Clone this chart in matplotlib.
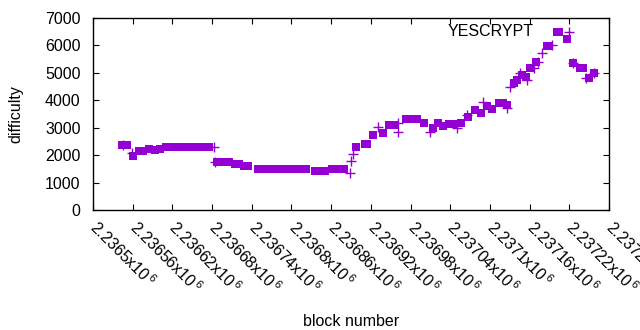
import matplotlib
matplotlib.use("Agg")
import matplotlib.pyplot as plt

plt.rcParams["font.family"] = ["Liberation Sans", "DejaVu Sans"]
plt.rcParams["mathtext.default"] = "regular"

purple = "#9400D3"

# блоки с квадратными маркерами
sq_blocks = [2236544, 2236548, 2236551, 2236560, 2236569, 2236575, 2236584, 2236593,
             2236601, 2236610, 2236616, 2236622, 2236628, 2236634, 2236640, 2236646,
             2236652, 2236658, 2236664, 2236670, 2236676, 2236687, 2236693, 2236699,
             2236705, 2236714, 2236720, 2236729, 2236735, 2236750, 2236756, 2236762,
             2236768, 2236774, 2236780, 2236792, 2236798, 2236804, 2236810, 2236816,
             2236822, 2236836, 2236843, 2236850, 2236861, 2236867, 2236873, 2236880,
             2236898, 2236911, 2236914, 2236923, 2236938, 2236948, 2236956, 2236973,
             2236979, 2236985, 2236989, 2237001, 2237014, 2237021, 2237029, 2237038,
             2237045, 2237057, 2237067, 2237078, 2237086, 2237096, 2237103, 2237113,
             2237119, 2237126, 2237136, 2237141, 2237149, 2237154, 2237161, 2237169,
             2237186, 2237190, 2237201, 2237205, 2237216, 2237226, 2237236, 2237240,
             2237249, 2237258]
sq_diff = [2370, 2370, 2370, 1970, 2150, 2150, 2220, 2200,
           2240, 2300, 2300, 2300, 2300, 2300, 2300, 2300,
           2300, 2300, 2300, 2300, 2300, 1760, 1760, 1760,
           1760, 1660, 1660, 1590, 1590, 1480, 1480, 1480,
           1480, 1480, 1480, 1510, 1510, 1510, 1510, 1510,
           1510, 1420, 1420, 1420, 1490, 1490, 1490, 1490,
           2300, 2420, 2420, 2730, 2790, 3100, 3100, 3320,
           3320, 3320, 3320, 3170, 3000, 3190, 3060, 3150,
           3150, 3190, 3400, 3650, 3550, 3790, 3700, 3890,
           3890, 3830, 4620, 4740, 4920, 4840, 5160, 5410,
           5980, 5980, 6480, 6480, 6220, 5350, 5170, 5170,
           4800, 5010]

# блоки с крестиками
pl_blocks = [2236546, 2236559, 2236683, 2236684, 2236889, 2236890, 2236893, 2236931,
             2236961, 2236961, 2237010, 2237050, 2237065, 2237090, 2237126, 2237131,
             2237146, 2237156, 2237166, 2237172, 2237179, 2237194, 2237219, 2237225,
             2237245, 2237257]
pl_diff = [2380, 2070, 2300, 1760, 1350, 1790, 2040, 3030,
           2840, 3170, 2840, 2980, 3460, 3950, 3720, 4480,
           4980, 4740, 5160, 5410, 5710, 6020, 6480, 5350,
           4800, 5010]

xticks = list(range(2236500, 2237281, 60))
xtick_labels = ["%gx10$^{\\,6}$" % (v / 1e6) for v in xticks]

fig = plt.figure(figsize=(6.4, 3.3), dpi=100)
ax = fig.add_axes([0.1453, 0.3636, 0.8063, 0.5819])

ax.plot(sq_blocks, sq_diff, ls="none", marker="s", ms=5.2, color=purple, mew=0)
ax.plot(pl_blocks, pl_diff, ls="none", marker="+", ms=7.5, mew=1.0, color=purple)

ax.set_xlim(2236500, 2237280)
ax.set_ylim(0, 7000)
ax.set_yticks(range(0, 7001, 1000))
ax.set_xticks(xticks)
ax.set_xticklabels(xtick_labels, rotation=-45, ha="left", va="center",
                   rotation_mode="anchor", fontsize=11.5)
ax.tick_params(direction="in", length=4, top=True, right=True, labelsize=11.5)
ax.tick_params(axis="y", pad=9)
ax.tick_params(axis="x", pad=10)
for s in ax.spines.values():
    s.set_linewidth(1)

ax.set_xlabel("block number", fontsize=11.5)
ax.xaxis.set_label_coords(0.5, -0.54)
ax.set_ylabel("difficulty", fontsize=11.5)
ax.yaxis.set_label_coords(-0.135, 0.5)

ax.text(0.853, 0.93, "YESCRYPT", transform=ax.transAxes, ha="right", va="center",
        fontsize=11.5)

fig.savefig("out.png", dpi=100)
